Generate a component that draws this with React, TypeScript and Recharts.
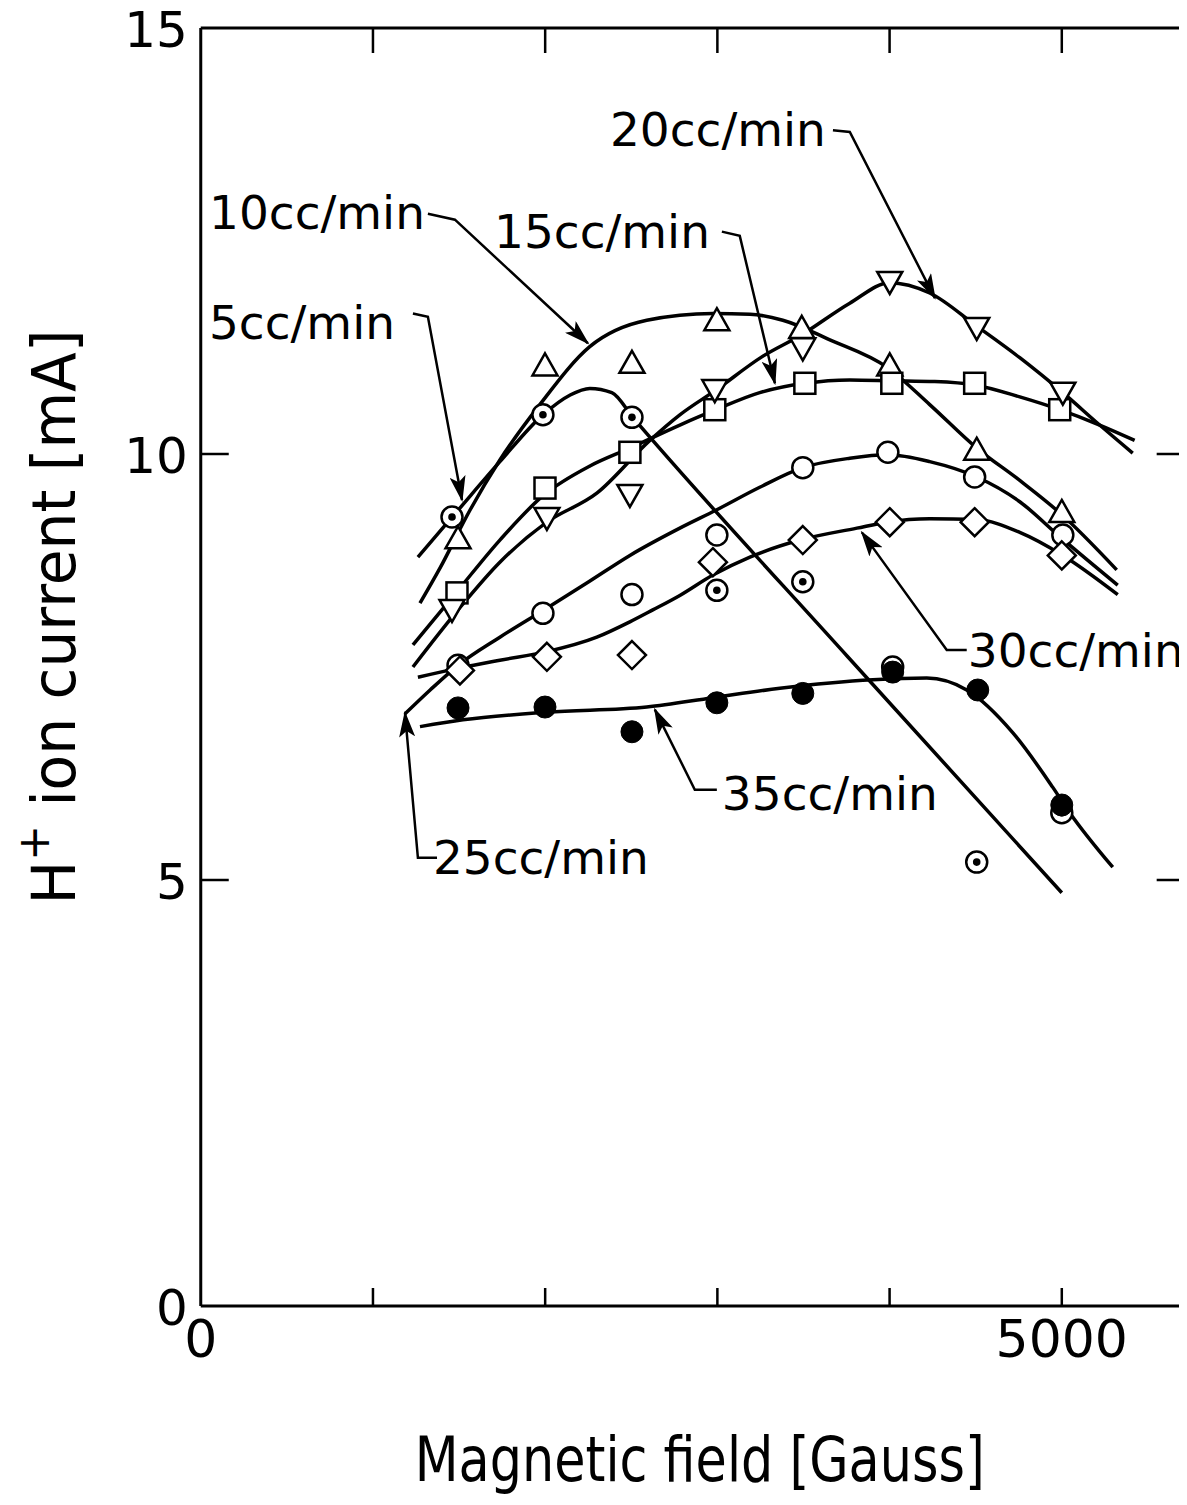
import React from 'react';
import { ComposedChart, Line, Scatter, XAxis, YAxis, ReferenceLine } from 'recharts';

const FONT = '"DejaVu Sans", "Liberation Sans", sans-serif';

// ---- axes ----
const xTicks = [0, 1000, 2000, 3000, 4000, 5000];
const xTickLabels = ['0', '', '', '', '', '5000'];
const yTicks = [0, 5, 10, 15];
const yTickLabels = ['0', '5', '10', '15'];
const innerXTicks = [1000, 2000, 3000, 4000, 5000];
const innerYTicks = [5, 10];
const xDomain = [0, 6000];
const yDomain = [0, 15];
const rightTickStart = 5551;

// ---- fitted curves ----
const curve5: [number, number][] = [[1261, 8.79], [1494, 9.34], [1737, 9.91], [1987, 10.46], [2143, 10.69], [2259, 10.77], [2387, 10.72], [2509, 10.43], [3757, 7.62], [5000, 4.85]];
const curve10: [number, number][] = [[1273, 8.25], [1389, 8.66], [1563, 9.34], [1737, 9.93], [1969, 10.58], [2259, 11.26], [2590, 11.57], [2974, 11.65], [3189, 11.64], [3380, 11.57], [3653, 11.34], [3984, 11.02], [4233, 10.58], [4506, 10.07], [4756, 9.69], [4988, 9.31], [5319, 8.64]];
const curve15: [number, number][] = [[1232, 7.76], [1494, 8.40], [1737, 8.99], [1993, 9.52], [2260, 9.86], [2492, 10.07], [2782, 10.34], [2991, 10.52], [3246, 10.72], [3508, 10.83], [3769, 10.87], [4013, 10.86], [4262, 10.85], [4494, 10.81], [4756, 10.67], [4988, 10.52], [5220, 10.34], [5423, 10.16]];
const curve20: [number, number][] = [[1232, 7.50], [1494, 8.17], [1737, 8.73], [2010, 9.20], [2300, 9.54], [2608, 10.16], [2782, 10.46], [2991, 10.75], [3258, 11.14], [3490, 11.40], [3769, 11.77], [4001, 12.01], [4233, 11.89], [4506, 11.50], [4756, 11.13], [5006, 10.72], [5220, 10.34], [5412, 10.01]];
const curve25: [number, number][] = [[1186, 6.95], [1332, 7.23], [1494, 7.52], [1737, 7.85], [1993, 8.17], [2260, 8.51], [2492, 8.81], [2782, 9.13], [2991, 9.34], [3246, 9.61], [3496, 9.84], [3769, 9.95], [3990, 9.99], [4233, 9.91], [4506, 9.73], [4756, 9.44], [4988, 9.03], [5325, 8.46]];
const curve30: [number, number][] = [[1261, 7.38], [1505, 7.49], [1737, 7.58], [2010, 7.68], [2300, 7.85], [2492, 8.03], [2625, 8.17], [2782, 8.34], [2974, 8.58], [3189, 8.79], [3479, 8.99], [3810, 9.13], [3984, 9.20], [4233, 9.24], [4506, 9.23], [4756, 9.08], [5006, 8.81], [5325, 8.35]];
const curve35: [number, number][] = [[1273, 6.80], [1522, 6.88], [2010, 6.97], [2590, 7.03], [2974, 7.14], [3363, 7.25], [3903, 7.35], [4216, 7.37], [4448, 7.23], [4715, 6.73], [4947, 6.09], [5046, 5.79], [5296, 5.15]];

// ---- measured points ----
const pts5: [number, number][] = [[1459, 9.26], [1987, 10.46], [2504, 10.43], [2997, 8.40], [3496, 8.50], [4018, 7.50], [4506, 5.21], [5000, 5.79]];
const pts10: [number, number][] = [[1494, 9.01], [1999, 11.04], [2504, 11.07], [2997, 11.57], [3490, 11.48], [4001, 11.04], [4506, 10.05], [5000, 9.32]];
const pts15: [number, number][] = [[1488, 8.37], [1999, 9.60], [2492, 10.02], [2985, 10.52], [3508, 10.83], [4013, 10.83], [4494, 10.83], [4988, 10.52]];
const pts20: [number, number][] = [[1459, 8.17], [2010, 9.25], [2492, 9.52], [2985, 10.75], [3496, 11.24], [4001, 12.02], [4506, 11.48], [5006, 10.72]];
const pts25: [number, number][] = [[1494, 7.52], [1987, 8.13], [2504, 8.35], [2997, 9.05], [3496, 9.84], [3990, 10.02], [4494, 9.73], [5006, 9.05]];
const pts30: [number, number][] = [[1505, 7.46], [2010, 7.62], [2504, 7.64], [2974, 8.73], [3496, 8.99], [4001, 9.20], [4494, 9.20], [5000, 8.81]];
const pts35: [number, number][] = [[1494, 7.02], [1999, 7.03], [2504, 6.74], [2997, 7.08], [3496, 7.19], [4018, 7.44], [4512, 7.23], [5000, 5.88]];

// ---- annotation arrows (label leader lines) ----
const arrow20: [number, number][] = [[3671, 13.80], [3769, 13.78], [4263, 11.83]];
const arrow15: [number, number][] = [[3026, 12.61], [3130, 12.56], [3334, 10.83]];
const arrow10: [number, number][] = [[1319, 12.82], [1476, 12.75], [2248, 11.30]];
const arrow5: [number, number][] = [[1232, 11.65], [1319, 11.61], [1517, 9.46]];
const arrow30: [number, number][] = [[4448, 7.70], [4332, 7.70], [3839, 9.08]];
const arrow35: [number, number][] = [[2997, 6.06], [2869, 6.06], [2637, 7.00]];
const arrow25: [number, number][] = [[1372, 5.26], [1261, 5.26], [1186, 6.96]];

// ---- annotation texts ----
const labelTexts = ['20cc/min', '15cc/min', '10cc/min', '5cc/min', '30cc/min', '35cc/min', '25cc/min'];
const labelX = [3630, 2957, 1302, 1128, 4454, 3026, 1348];
const labelY = [13.82, 12.62, 12.84, 11.55, 7.70, 6.02, 5.27];
const labelAnchor = ['end', 'end', 'end', 'end', 'start', 'start', 'start'];

const toPts = (a: [number, number][]) => a.map(([x, y]) => ({ x, y }));
const labels = labelTexts.map((text, i) => ({ x: labelX[i], y: labelY[i], text, anchor: labelAnchor[i] }));

const SW = 2.5;

const BottomTick = (props: any) => {
  const { x, y, payload } = props;
  const v = payload.value;
  const label = xTickLabels[xTicks.indexOf(v)] || '';
  return (
    <g>
      {innerXTicks.includes(v) && <line x1={x} y1={y} x2={x} y2={y - 18} stroke="#000" strokeWidth={SW} />}
      {label && (
        <text x={x} y={y + 51} textAnchor="middle" fontSize={52} fontFamily={FONT} fill="#000">{label}</text>
      )}
    </g>
  );
};
const TopTick = (props: any) => {
  const { x, y, payload } = props;
  return innerXTicks.includes(payload.value) ? <line x1={x} y1={y} x2={x} y2={y + 25} stroke="#000" strokeWidth={SW} /> : <g />;
};
const LeftTick = (props: any) => {
  const { x, y, payload } = props;
  const v = payload.value;
  const label = yTickLabels[yTicks.indexOf(v)] || '';
  return (
    <g>
      {innerYTicks.includes(v) && <line x1={x} y1={y} x2={x + 28} y2={y} stroke="#000" strokeWidth={SW} />}
      <text x={x - 13} y={y + 19} textAnchor="end" fontSize={50} fontFamily={FONT} fill="#000">{label}</text>
    </g>
  );
};

const XTitle = (props: any) => {
  const vb = props.viewBox || { x: 192, y: 1298, width: 1033 };
  return (
    <text x={vb.x + 499} y={vb.y + 175} textAnchor="middle" fontSize={62} fontFamily={FONT} fill="#000"
      textLength={570} lengthAdjust="spacingAndGlyphs">
      Magnetic field [Gauss]
    </text>
  );
};
const YTitle = (props: any) => {
  const vb = props.viewBox || { x: 192, y: 20, width: 1, height: 1278 };
  const cx = vb.x + (vb.width || 0) - 148;
  const cy = vb.y + vb.height / 2 - 50;
  return (
    <text x={cx} y={cy} transform={`rotate(-90 ${cx} ${cy})`} dy={22} textAnchor="middle" fontSize={60} fontFamily={FONT} fill="#000"
      textLength={575} lengthAdjust="spacingAndGlyphs">
      H<tspan fontSize={44} dy={-26}>+</tspan><tspan dy={26}> ion current [mA]</tspan>
    </text>
  );
};

const DotCircle = (p: any) => (
  <g>
    <circle cx={p.cx} cy={p.cy} r={10.5} fill="#fff" stroke="#000" strokeWidth={SW} />
    <circle cx={p.cx} cy={p.cy} r={3.8} fill="#000" />
  </g>
);
const OpenCircle = (p: any) => <circle cx={p.cx} cy={p.cy} r={10.5} fill="#fff" stroke="#000" strokeWidth={SW} />;
const FilledCircle = (p: any) => <circle cx={p.cx} cy={p.cy} r={11} fill="#000" stroke="#000" strokeWidth={1} />;
const SquareShape = (p: any) => <rect x={p.cx - 10.5} y={p.cy - 10.5} width={21} height={21} fill="#fff" stroke="#000" strokeWidth={SW} />;
const TriUp = (p: any) => (
  <polygon points={`${p.cx},${p.cy - 12} ${p.cx + 12.5},${p.cy + 10} ${p.cx - 12.5},${p.cy + 10}`} fill="#fff" stroke="#000" strokeWidth={SW} strokeLinejoin="miter" />
);
const TriDown = (p: any) => (
  <polygon points={`${p.cx - 12.5},${p.cy - 10} ${p.cx + 12.5},${p.cy - 10} ${p.cx},${p.cy + 12}`} fill="#fff" stroke="#000" strokeWidth={SW} strokeLinejoin="miter" />
);
const DiamondShape = (p: any) => (
  <polygon points={`${p.cx},${p.cy - 14} ${p.cx + 14},${p.cy} ${p.cx},${p.cy + 14} ${p.cx - 14},${p.cy}`} fill="#fff" stroke="#000" strokeWidth={SW} />
);
const LabelShape = (p: any) => (
  <text x={p.cx} y={p.cy} dy={17} textAnchor={p.payload.anchor} fontSize={47} fontFamily={FONT} fill="#000">{p.payload.text}</text>
);

const curves = [curve5, curve10, curve15, curve20, curve25, curve30, curve35];
const arrows = [arrow20, arrow15, arrow10, arrow5, arrow30, arrow35, arrow25];
const series: { pts: [number, number][]; shape: any }[] = [
  { pts: pts5, shape: DotCircle },
  { pts: pts25, shape: OpenCircle },
  { pts: pts30, shape: DiamondShape },
  { pts: pts10, shape: TriUp },
  { pts: pts15, shape: SquareShape },
  { pts: pts20, shape: TriDown },
  { pts: pts35, shape: FilledCircle },
];

export default function App() {
  return (
    <div style={{ width: 1179, height: 1489, overflow: 'hidden', position: 'relative', background: '#fff' }}>
      <svg width={0} height={0} style={{ position: 'absolute' }}>
        <defs>
          <marker id="arrowHead" viewBox="0 0 26 16" markerWidth={26} markerHeight={16} refX={24} refY={8}
            orient="auto" markerUnits="userSpaceOnUse">
            <path d="M0,0 L26,8 L0,16 L6,8 Z" fill="#000" />
          </marker>
        </defs>
      </svg>
      <ComposedChart width={1227} height={1489} margin={{ top: 19, right: 1, bottom: 190, left: 191.75 }}>
        <XAxis xAxisId="b" type="number" dataKey="x" domain={xDomain} allowDataOverflow ticks={xTicks} interval={0}
          height={1} tickSize={0} tickMargin={0} tickLine={false} tick={<BottomTick />}
          axisLine={{ stroke: '#000', strokeWidth: 3 }} label={<XTitle />} />
        <XAxis xAxisId="t" orientation="top" type="number" dataKey="x" domain={xDomain} allowDataOverflow ticks={innerXTicks} interval={0}
          height={1} tickSize={0} tickMargin={0} tickLine={false} tick={<TopTick />}
          axisLine={{ stroke: '#000', strokeWidth: 3 }} />
        <YAxis yAxisId="l" type="number" domain={yDomain} allowDataOverflow ticks={yTicks} interval={0}
          width={1} tickSize={0} tickMargin={0} tickLine={false} tick={<LeftTick />}
          axisLine={{ stroke: '#000', strokeWidth: 3 }} label={<YTitle />} />

        {innerYTicks.map((v) => (
          <ReferenceLine key={`rt${v}`} xAxisId="b" yAxisId="l" segment={[{ x: rightTickStart, y: v }, { x: xDomain[1], y: v }]}
            stroke="#000" strokeWidth={SW} ifOverflow="visible" />
        ))}

        {curves.map((c, i) => (
          <Line key={`c${i}`} xAxisId="b" yAxisId="l" data={toPts(c)} dataKey="y" type="monotone" dot={false} activeDot={false}
            stroke="#000" strokeWidth={3.5} isAnimationActive={false} />
        ))}
        {arrows.map((a, i) => (
          <Line key={`a${i}`} xAxisId="b" yAxisId="l" data={toPts(a)} dataKey="y" type="linear" dot={false} activeDot={false}
            stroke="#000" strokeWidth={2.5} markerEnd="url(#arrowHead)" isAnimationActive={false} />
        ))}
        {series.map((s, i) => (
          <Scatter key={`s${i}`} xAxisId="b" yAxisId="l" data={toPts(s.pts)} dataKey="y" shape={s.shape} isAnimationActive={false} />
        ))}
        <Scatter xAxisId="b" yAxisId="l" data={labels} dataKey="y" shape={LabelShape} isAnimationActive={false} />
      </ComposedChart>
    </div>
  );
}
